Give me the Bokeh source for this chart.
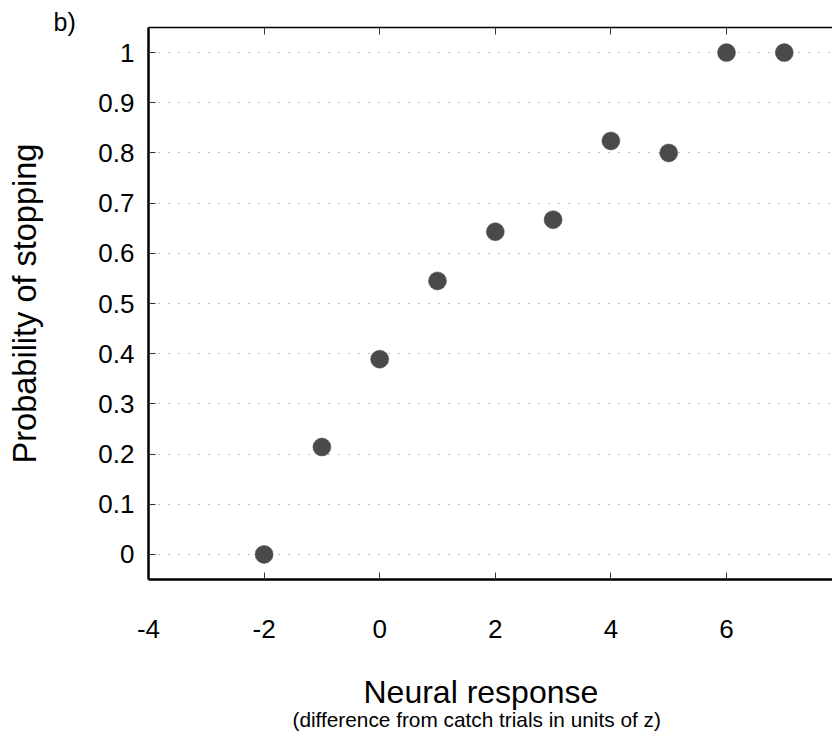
from bokeh.plotting import figure
from bokeh.models import (ColumnDataSource, FixedTicker, LinearAxis, Title,
                          CustomJSTickFormatter, Range1d)
from bokeh.embed import file_html
from bokeh.resources import INLINE

# ---- data ----
neural_response = [-2, -1, 0, 1, 2, 3, 4, 5, 6, 7]
p_stop = [0.0, 0.214, 0.389, 0.545, 0.643, 0.667, 0.824, 0.80, 1.0, 1.0]
x_ticks = [-4, -2, 0, 2, 4, 6]
y_ticks = [0, 0.1, 0.2, 0.3, 0.4, 0.5, 0.6, 0.7, 0.8, 0.9, 1.0]
y_label = "Probability of stopping"
x_label = "Neural response"
x_sublabel = "(difference from catch trials in units of z)"
panel_tag = "b)"

FONT = "Liberation Sans"

p = figure(width=832, height=739, output_backend="svg", toolbar_location=None,
           x_range=Range1d(-4, 7.834), y_range=Range1d(-0.05, 1.05),
           min_border_left=148, min_border_right=0, min_border_top=27,
           min_border_bottom=160, x_axis_location=None, y_axis_location=None)
p.outline_line_color = None
p.background_fill_color = "white"
p.border_fill_color = "white"

fmt = CustomJSTickFormatter(code="return (Math.round(tick*10)/10).toString();")
blank = CustomJSTickFormatter(code="return '';")

yax = LinearAxis(ticker=FixedTicker(ticks=y_ticks), formatter=fmt)
xax = LinearAxis(ticker=FixedTicker(ticks=x_ticks), formatter=fmt)
topax = LinearAxis(ticker=FixedTicker(ticks=x_ticks), formatter=blank)

for ax in (yax, xax, topax):
    ax.axis_line_color = "black"
    ax.major_tick_in = 7
    ax.major_tick_out = 0
    ax.minor_tick_line_color = None
    ax.major_tick_line_color = "#333333"
    ax.major_tick_line_width = 1
    ax.major_label_text_font = FONT
    ax.major_label_text_font_size = "26px"
    ax.major_label_text_color = "black"
    ax.axis_label_text_font = FONT
    ax.axis_label_text_font_style = "normal"
    ax.axis_label_text_color = "black"

yax.axis_line_width = 2.5
xax.axis_line_width = 2.5
topax.axis_line_width = 1.5
topax.major_label_standoff = 0

yax.major_label_standoff = 14
yax.axis_label = y_label
yax.axis_label_text_font_size = "32.5px"
yax.axis_label_standoff = 52

xax.major_label_standoff = 40

# invisible spacer between tick labels and the axis title lines
spacer = LinearAxis(ticker=FixedTicker(ticks=[0]), formatter=blank,
                    axis_line_color=None, major_tick_in=0, major_tick_out=35,
                    major_tick_line_color="white", minor_tick_line_color=None,
                    major_label_standoff=0, major_label_text_font_size="1px")

p.add_layout(yax, "left")
p.add_layout(xax, "below")
p.add_layout(spacer, "below")
p.add_layout(topax, "above")

p.add_layout(Title(text=x_label, align="left", offset=215, text_font=FONT,
                   text_font_size="32px", text_font_style="normal",
                   text_color="black", standoff=-8), "below")
p.add_layout(Title(text=x_sublabel, align="left", offset=144, text_font=FONT,
                   text_font_size="20.8px", text_font_style="normal",
                   text_color="black", standoff=0), "below")
p.add_layout(Title(text=panel_tag, align="left", offset=-95, text_font=FONT,
                   text_font_size="25px", text_font_style="normal",
                   text_color="black", standoff=-16), "above")

p.xgrid.visible = False
p.ygrid.ticker = FixedTicker(ticks=y_ticks)
p.ygrid.grid_line_color = "#777777"
p.ygrid.grid_line_width = 1
p.ygrid.grid_line_dash = "1 9"

src = ColumnDataSource(dict(x=neural_response, y=p_stop))
p.scatter("x", "y", source=src, size=18, fill_color="#4a4a4a",
          line_color="#4a4a4a", line_width=0.5)

open("out.html", "w").write(file_html(p, INLINE))
